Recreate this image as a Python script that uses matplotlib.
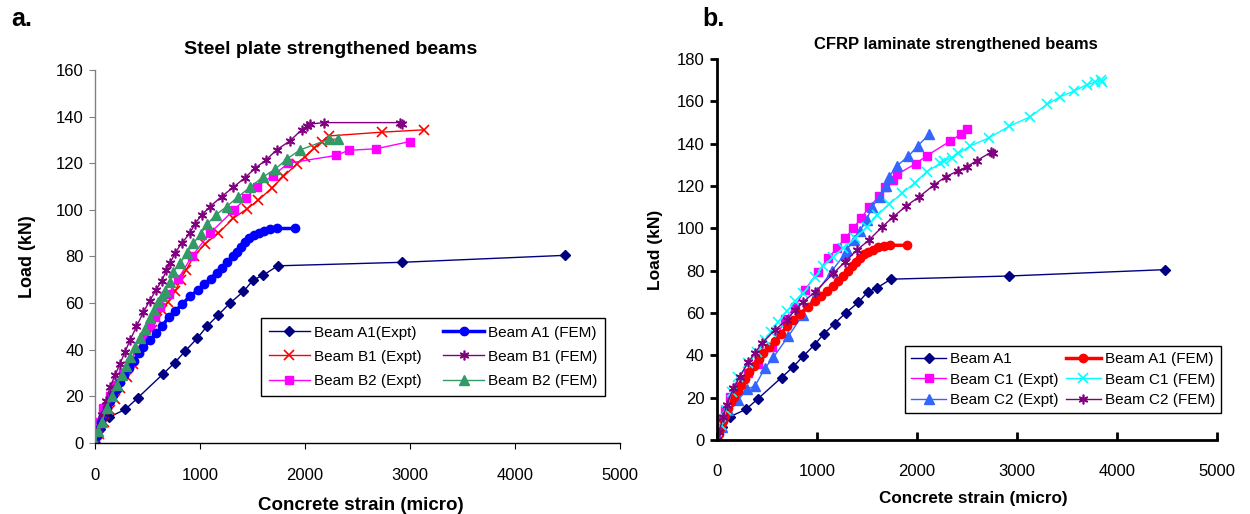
import matplotlib
matplotlib.use("Agg")
import matplotlib.pyplot as plt

plt.rcParams['font.family'] = ['Liberation Sans', 'DejaVu Sans']

# ---------------- data (strain in micro, load in kN) ----------------
a1_expt_x = [0, 47, 130, 290, 410, 645, 760, 860, 975, 1065, 1175, 1286, 1413, 1508, 1603, 1740, 2920, 4480]
a1_expt_y = [0, 6, 11, 14.5, 19.5, 29.5, 34.5, 39.5, 45, 50, 55, 60, 65, 70, 72, 76, 77.5, 80.5]

a1_fem_x = [0, 20, 40, 60, 80, 110, 140, 170, 206, 240, 280, 320, 370, 420, 460, 520, 580, 640, 700,
            760, 830, 905, 980, 1040, 1100, 1160, 1210, 1260, 1310, 1350, 1390, 1430, 1470, 1510, 1560,
            1610, 1670, 1730, 1900]
a1_fem_y = [0, 3, 6, 9, 11.5, 15, 18, 20.5, 23, 26, 29, 32, 35, 38.5, 41, 44, 47, 50, 54,
            56.5, 59.5, 63, 65.5, 68, 70.5, 73, 75, 77.5, 80, 82, 84, 86, 87.8, 89, 90,
            91, 91.8, 92, 92]

b1_expt_x = [0, 40, 90, 140, 190, 240, 300, 360, 420, 480, 540, 587, 640, 698, 762, 815, 867, 940,
             1048, 1175, 1317, 1444, 1556, 1683, 1794, 1921, 2000, 2089, 2159, 2231, 2730, 3130]
b1_expt_y = [0, 4, 9, 14, 19, 23.5, 28.5, 34, 40, 45, 48.5, 53, 57, 60.6, 65, 70, 74.2, 80,
             85.4, 90, 96.4, 100.3, 104.2, 109.3, 114.3, 119.6, 122.8, 126.4, 129.3, 131.7, 133.3, 134.3]

b1_fem_x = [0, 30, 70, 105, 143, 190, 238, 285, 333, 395, 460, 520, 580, 635, 680, 714, 762, 825,
            905, 952, 1016, 1095, 1206, 1317, 1429, 1524, 1629, 1730, 1857, 1968, 2016, 2048, 2184,
            2900, 2920]
b1_fem_y = [0, 6, 12, 18, 24, 29, 34, 39, 44, 50, 56, 61, 65.5, 69.5, 74, 77, 81.4, 85.7,
            90, 94, 97.8, 101.4, 105.7, 109.7, 113.8, 117.8, 121.4, 125.7, 129.6, 134.3, 136, 136.8, 137.4,
            137.4, 137]

b2_expt_x = [0, 0, 16, 79, 143, 200, 270, 333, 400, 470, 524, 570, 619, 700, 794, 921, 1095, 1324,
             1438, 1540, 1697, 1840, 2292, 2416, 2680, 3000]
b2_expt_y = [0, 5, 9, 15, 20, 25, 30, 34.5, 40, 45, 50, 54, 58.5, 64, 70.5, 80, 90, 100,
             105, 110, 114.7, 120, 123.3, 125.5, 126.2, 129.3]

b2_fem_x = [0, 30, 64, 110, 159, 210, 254, 295, 333, 380, 429, 475, 524, 565, 603, 640, 667, 714,
            746, 810, 879, 937, 1006, 1070, 1149, 1254, 1365, 1476, 1597, 1714, 1825, 1952, 2231, 2317]
b2_fem_y = [0, 5, 9, 15, 20, 25, 29, 33, 37, 41, 45, 49, 53.5, 57, 60.6, 63, 65, 69.2,
            73.5, 77.2, 81.6, 85.7, 89.7, 94, 97.8, 101.4, 105.7, 109.7, 114, 117.4, 121.7, 125.7, 130.3, 130.3]

c1_expt_x = [0, 13, 50, 80, 130, 213, 313, 413, 547, 680, 780, 880, 1013, 1113, 1197, 1280, 1363,
             1437, 1523, 1623, 1680, 1763, 1803, 1987, 2097, 2330, 2437, 2500]
c1_expt_y = [0, 4, 10, 14, 20.5, 25, 31.5, 36, 44, 57, 63, 71, 79.5, 86, 90.6, 95.3, 100,
             104.7, 110, 115.3, 119.7, 122.8, 125.6, 130.6, 134.3, 141.2, 144.5, 146.8]

c1_fem_x = [0, 40, 90, 147, 213, 313, 397, 480, 540, 613, 700, 780, 863, 980, 1060, 1163, 1263,
            1380, 1503, 1603, 1723, 1847, 1980, 2097, 2230, 2270, 2347, 2413, 2530, 2720, 2923, 3130,
            3300, 3430, 3566, 3700, 3780, 3840, 3850]
c1_fem_y = [0, 7, 14, 22.8, 29.9, 36.2, 41.7, 47.2, 51, 55.9, 61, 65.5, 69.3, 77.1, 82, 86.6, 90.6,
            95.3, 100.8, 106.3, 111.5, 116.5, 121.6, 126.8, 130.7, 131.8, 133.5, 135.4, 138.9, 142.8, 148.3, 152.7,
            158.6, 162.2, 164.8, 168, 169, 170.3, 169]

c2_expt_x = [0, 47, 113, 213, 300, 380, 480, 563, 713, 857, 1000, 1150, 1280, 1297, 1373, 1430, 1497,
             1547, 1630, 1690, 1723, 1797, 1913, 2007, 2123]
c2_expt_y = [0, 6, 14, 19, 24, 25.5, 34, 39, 49, 59, 70, 80, 88, 90, 94.5, 99, 104,
             110, 115, 120, 124.5, 129.5, 134, 139, 144.5]

c2_fem_x = [0, 20, 63, 97, 163, 230, 313, 380, 447, 580, 697, 780, 863, 980, 1163, 1280, 1397, 1520,
            1647, 1763, 1890, 2020, 2170, 2287, 2407, 2497, 2597, 2740, 2763]
c2_fem_y = [0, 3.9, 11, 16.5, 24.4, 29.9, 37, 41, 45.7, 52, 56.7, 61.4, 65.3, 70, 78.7, 84.2, 89.7, 94.5,
            100.5, 105.5, 110.5, 114.9, 120.5, 124.4, 127.1, 129.1, 132, 136, 135.4]

x_ticks = [0, 1000, 2000, 3000, 4000, 5000]
left_y_ticks = [0, 20, 40, 60, 80, 100, 120, 140, 160]
right_y_ticks = [0, 20, 40, 60, 80, 100, 120, 140, 160, 180]

# ---------------- styles ----------------
NAVY = '#000080'
BLUE = '#0000FF'
RED = '#FF0000'
PURPLE = '#800080'
MAGENTA = '#FF00FF'
GREEN = '#339966'
CYAN = '#00FFFF'
ROYAL = '#3366FF'
STAR = (6, 2, 0)

fig = plt.figure(figsize=(12.5, 5.14), dpi=100)
axL = fig.add_axes([0.076, 0.138, 0.42, 0.726])
axR = fig.add_axes([0.5736, 0.144, 0.40, 0.741])

def series(ax, x, y, color, marker, ms, lw=1.0, label=None, mew=1.0):
    ax.plot(x, y, color=color, marker=marker, markersize=ms, linewidth=lw,
            markeredgewidth=mew, markerfacecolor=color, markeredgecolor=color, label=label)

# left panel (legend order: row-wise pairs)
series(axL, a1_expt_x, a1_expt_y, NAVY, 'D', 5, label='Beam A1(Expt)')
series(axL, b1_expt_x, b1_expt_y, RED, 'x', 7, label='Beam B1 (Expt)', mew=1.2)
series(axL, b2_expt_x, b2_expt_y, MAGENTA, 's', 5.5, label='Beam B2 (Expt)')
series(axL, a1_fem_x, a1_fem_y, BLUE, 'o', 6, lw=2.5, label='Beam A1 (FEM)')
series(axL, b1_fem_x, b1_fem_y, PURPLE, STAR, 7, label='Beam B1 (FEM)', mew=1.2)
series(axL, b2_fem_x, b2_fem_y, GREEN, '^', 6.5, label='Beam B2 (FEM)')

# right panel
series(axR, a1_expt_x, a1_expt_y, NAVY, 'D', 5, label='Beam A1')
series(axR, c1_expt_x, c1_expt_y, MAGENTA, 's', 5.5, label='Beam C1 (Expt)')
series(axR, c2_expt_x, c2_expt_y, ROYAL, '^', 6.5, label='Beam C2 (Expt)')
series(axR, a1_fem_x, a1_fem_y, RED, 'o', 6, lw=2.5, label='Beam A1 (FEM)')
series(axR, c1_fem_x, c1_fem_y, CYAN, 'x', 7, label='Beam C1 (FEM)', mew=1.2)
series(axR, c2_fem_x, c2_fem_y, PURPLE, STAR, 7, label='Beam C2 (FEM)', mew=1.2)

# axes styling
for ax, yt, ymax in [(axL, left_y_ticks, 160), (axR, right_y_ticks, 180)]:
    ax.set_xlim(0, 5000)
    ax.set_ylim(0, ymax)
    ax.set_xticks(x_ticks)
    ax.set_yticks(yt)
    ax.spines['top'].set_visible(False)
    ax.spines['right'].set_visible(False)
    for lbl in ax.get_xticklabels() + ax.get_yticklabels():
        lbl.set_fontsize(12)
    for s in ax.spines.values():
        s.set_clip_on(False)

axL.set_xlabel('Concrete strain (micro)', fontsize=13.5, fontweight='bold')
axL.set_ylabel('Load (kN)', fontsize=13, fontweight='bold')
axR.set_xlabel('Concrete strain (micro)', fontsize=12.3, fontweight='bold')
axR.set_ylabel('Load (kN)', fontsize=12.5, fontweight='bold')

axL.spines['left'].set_color('#808080')
axL.spines['left'].set_linewidth(1.0)
axL.spines['bottom'].set_color('black')
axL.spines['bottom'].set_linewidth(1.0)
axL.tick_params(axis='y', direction='out', length=4, color='#808080', pad=4)
axL.tick_params(axis='x', direction='out', length=4, color='black', pad=14)
axL.xaxis.set_label_coords(0.506, -0.145)
axL.yaxis.set_label_coords(-0.112, 0.5)

axR.spines['left'].set_linewidth(2.0)
axR.spines['bottom'].set_linewidth(2.0)
axR.tick_params(axis='y', direction='out', length=5, width=2, pad=4)
axR.tick_params(axis='x', direction='in', length=6, width=2, pad=17)
axR.xaxis.set_label_coords(0.512, -0.135)
axR.yaxis.set_label_coords(-0.108, 0.5)

legL = axL.legend(ncol=2, loc='upper right', bbox_to_anchor=(0.9714, 0.335),
                  fontsize=11, frameon=True, fancybox=False, framealpha=1,
                  edgecolor='black', borderpad=0.5, handlelength=2.7, columnspacing=1.4,
                  labelspacing=0.66, handletextpad=0.25, borderaxespad=0)
legL.get_frame().set_linewidth(1.0)
legR = axR.legend(ncol=2, loc='upper right', bbox_to_anchor=(1.008, 0.2467),
                  fontsize=11, frameon=True, fancybox=False, framealpha=1,
                  edgecolor='black', borderpad=0.4, handlelength=2.3, columnspacing=0.45,
                  labelspacing=0.42, handletextpad=0.25, borderaxespad=0)
legR.get_frame().set_linewidth(1.0)

# titles and panel letters
fig.text(331 / 1250, 1 - 49 / 514, 'Steel plate strengthened beams', ha='center', va='center',
         fontsize=14, fontweight='bold')
fig.text(956 / 1250, 1 - 44 / 514, 'CFRP laminate strengthened beams', ha='center', va='center',
         fontsize=12, fontweight='bold')
fig.text(11 / 1250, 1 - 19 / 514, 'a.', ha='left', va='center', fontsize=18, fontweight='bold')
fig.text(702 / 1250, 1 - 19 / 514, 'b.', ha='left', va='center', fontsize=18, fontweight='bold')

fig.savefig('out.png', dpi=100)
